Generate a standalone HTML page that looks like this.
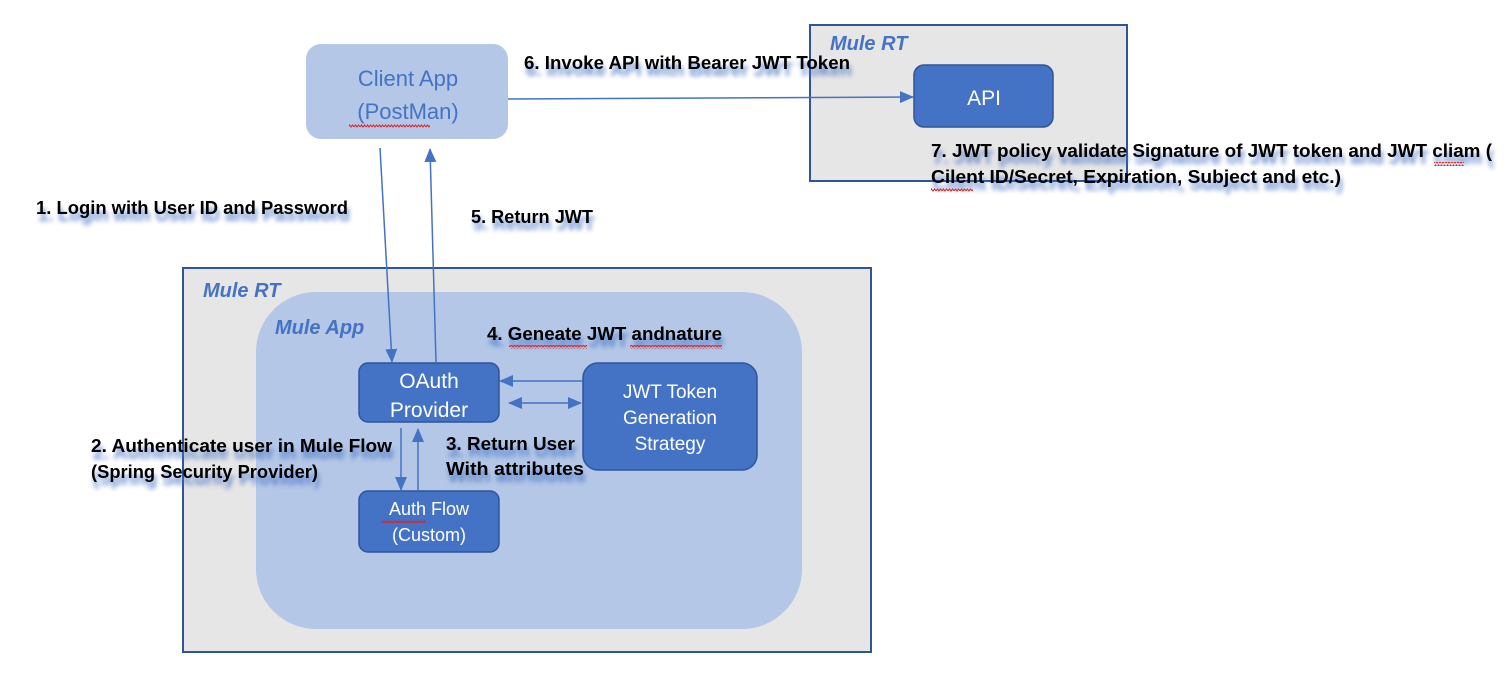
<!DOCTYPE html>
<html><head><meta charset="utf-8"><style>
html,body{margin:0;padding:0;background:#fff;}
svg{display:block;}
.lb{font-family:"Liberation Sans",sans-serif;font-weight:bold;font-size:18px;fill:#000;}
.sh{font-family:"Liberation Sans",sans-serif;font-weight:bold;font-size:18px;fill:#4472c4;filter:url(#blur);opacity:0.8;}
.w{font-family:"Liberation Sans",sans-serif;font-size:20px;fill:#fff;text-anchor:middle;}
.rt{font-family:"Liberation Sans",sans-serif;font-weight:bold;font-style:italic;font-size:20px;fill:#4472c4;}
</style></head><body>
<svg width="1510" height="674" viewBox="0 0 1510 674" xmlns="http://www.w3.org/2000/svg">
<defs>
<filter id="blur" x="-10%" y="-50%" width="120%" height="200%"><feGaussianBlur stdDeviation="2.5"/></filter>
<marker id="ah2" markerWidth="14" markerHeight="12" refX="13" refY="6" orient="auto" markerUnits="userSpaceOnUse"><path d="M0,0 L14,6 L0,12 z" fill="#4472c4"/></marker>
<marker id="ahs" markerWidth="14" markerHeight="12" refX="1" refY="6" orient="auto" markerUnits="userSpaceOnUse"><path d="M14,0 L0,6 L14,12 z" fill="#4472c4"/></marker>
<pattern id="wav" width="6" height="4" patternUnits="userSpaceOnUse"><path d="M0,3 L1.5,1 L3,3 L4.5,1 L6,3" stroke="#e02020" stroke-width="1" fill="none"/></pattern>
</defs>

<rect x="810" y="25" width="317" height="156" fill="#e7e6e6" stroke="#2f5597" stroke-width="2"/>
<text x="830" y="50" class="rt">Mule RT</text>
<rect x="914" y="65" width="139" height="62" rx="10" fill="#4472c4" stroke="#2f5597" stroke-width="1.5"/>
<text x="984" y="105" class="w" style="font-size:21px">API</text>

<rect x="306" y="44" width="202" height="95" rx="15" fill="#b4c7e7"/>
<text x="408" y="86" class="w" style="fill:#4472c4;font-size:22px">Client App</text>
<text x="408" y="119" class="w" style="fill:#4472c4;font-size:22px">(PostMan)</text>
<rect x="349" y="124" width="81" height="4" fill="url(#wav)"/>

<rect x="183" y="268" width="688" height="384" fill="#e7e6e6" stroke="#2f5597" stroke-width="2"/>
<text x="203" y="297" class="rt">Mule RT</text>
<rect x="256" y="292" width="546" height="337" rx="60" fill="#b4c7e7"/>
<text x="275" y="334" class="rt">Mule App</text>

<rect x="359" y="363" width="140" height="59" rx="9" fill="#4472c4" stroke="#2f5597" stroke-width="1.5"/>
<text x="429" y="388" class="w" style="font-size:21px">OAuth</text>
<text x="429" y="417" class="w" style="font-size:21px">Provider</text>

<rect x="583" y="363" width="174" height="107" rx="15" fill="#4472c4" stroke="#2f5597" stroke-width="1.5"/>
<text x="670" y="398" class="w" style="font-size:19px">JWT Token</text>
<text x="670" y="424" class="w" style="font-size:19px">Generation</text>
<text x="670" y="450" class="w" style="font-size:19px">Strategy</text>

<rect x="359" y="491" width="140" height="61" rx="9" fill="#4472c4" stroke="#2f5597" stroke-width="1.5"/>
<text x="429" y="515" class="w" style="font-size:18px">Auth Flow</text>
<text x="429" y="541" class="w" style="font-size:18px">(Custom)</text>
<rect x="382" y="519" width="44" height="4" fill="url(#wav)"/>

<line x1="508" y1="99" x2="913" y2="97" stroke="#4472c4" stroke-width="1.5" marker-end="url(#ah2)"/>
<line x1="380" y1="148" x2="392" y2="362" stroke="#4472c4" stroke-width="1.5" marker-end="url(#ah2)"/>
<line x1="436" y1="362" x2="430" y2="149" stroke="#4472c4" stroke-width="1.5" marker-end="url(#ah2)"/>
<line x1="583" y1="381" x2="500" y2="381" stroke="#4472c4" stroke-width="1.5" marker-end="url(#ah2)"/>
<line x1="509" y1="403" x2="581" y2="403" stroke="#4472c4" stroke-width="1.5" marker-end="url(#ah2)" marker-start="url(#ahs)"/>
<line x1="401" y1="428" x2="401" y2="490" stroke="#4472c4" stroke-width="1.5" marker-end="url(#ah2)"/>
<line x1="418" y1="491" x2="418" y2="429" stroke="#4472c4" stroke-width="1.5" marker-end="url(#ah2)"/>

<g transform="translate(2,7)">
<text x="36" y="214" class="sh" textLength="312" lengthAdjust="spacingAndGlyphs">1. Login with User ID and Password</text>
<text x="471" y="223" class="sh" textLength="122" lengthAdjust="spacingAndGlyphs">5. Return JWT</text>
<text x="524" y="69" class="sh" textLength="326" lengthAdjust="spacingAndGlyphs">6. Invoke API with Bearer JWT Token</text>
<text x="487" y="340" class="sh" textLength="235" lengthAdjust="spacingAndGlyphs">4. Geneate JWT andnature</text>
<text x="91" y="452" class="sh" textLength="301" lengthAdjust="spacingAndGlyphs">2. Authenticate user in Mule Flow</text>
<text x="91" y="478" class="sh" textLength="227" lengthAdjust="spacingAndGlyphs">(Spring Security Provider)</text>
<text x="446" y="450" class="sh" textLength="129" lengthAdjust="spacingAndGlyphs">3. Return User</text>
<text x="446" y="475" class="sh" textLength="138" lengthAdjust="spacingAndGlyphs">With attributes</text>
<text x="931" y="157" class="sh" textLength="561" lengthAdjust="spacingAndGlyphs">7. JWT policy validate Signature of JWT token  and  JWT cliam (</text>
<text x="931" y="183" class="sh" textLength="410" lengthAdjust="spacingAndGlyphs">Cilent ID/Secret, Expiration, Subject and etc.)</text>
</g>
<text x="36" y="214" class="lb" textLength="312" lengthAdjust="spacingAndGlyphs">1. Login with User ID and Password</text>
<text x="471" y="223" class="lb" textLength="122" lengthAdjust="spacingAndGlyphs">5. Return JWT</text>
<text x="524" y="69" class="lb" textLength="326" lengthAdjust="spacingAndGlyphs">6. Invoke API with Bearer JWT Token</text>
<text x="487" y="340" class="lb" textLength="235" lengthAdjust="spacingAndGlyphs">4. Geneate JWT andnature</text>
<text x="91" y="452" class="lb" textLength="301" lengthAdjust="spacingAndGlyphs">2. Authenticate user in Mule Flow</text>
<text x="91" y="478" class="lb" textLength="227" lengthAdjust="spacingAndGlyphs">(Spring Security Provider)</text>
<text x="446" y="450" class="lb" textLength="129" lengthAdjust="spacingAndGlyphs">3. Return User</text>
<text x="446" y="475" class="lb" textLength="138" lengthAdjust="spacingAndGlyphs">With attributes</text>
<text x="931" y="157" class="lb" textLength="561" lengthAdjust="spacingAndGlyphs">7. JWT policy validate Signature of JWT token  and  JWT cliam (</text>
<text x="931" y="183" class="lb" textLength="410" lengthAdjust="spacingAndGlyphs">Cilent ID/Secret, Expiration, Subject and etc.)</text>
<rect x="509" y="345" width="78" height="4" fill="url(#wav)"/>
<rect x="630" y="345" width="92" height="4" fill="url(#wav)"/>
<rect x="1434" y="162" width="30" height="4" fill="url(#wav)"/>
<rect x="931" y="188" width="42" height="4" fill="url(#wav)"/>
</svg>
</body></html>
